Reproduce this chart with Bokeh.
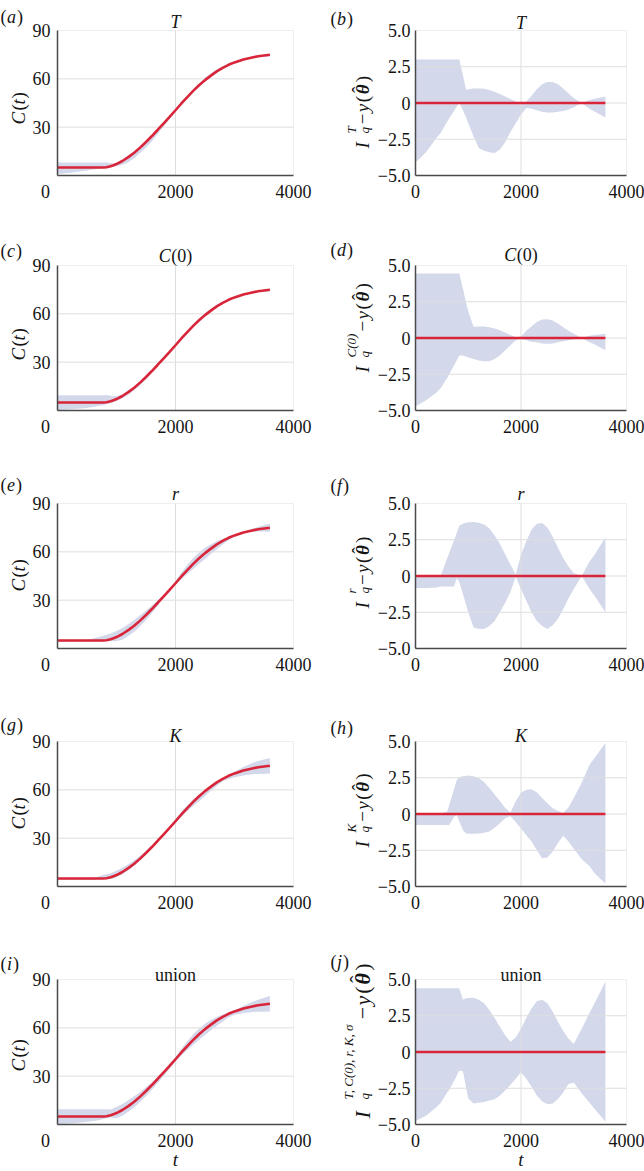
import numpy as np
from bokeh.plotting import figure
from bokeh.layouts import column, row
from bokeh.models import Range1d, FixedTicker, Label, BoxAnnotation
from bokeh.embed import file_html
from bokeh.resources import INLINE

# ---------------- data ----------------
t_grid = [0, 200, 400, 480, 600, 640, 730, 780, 830,
          900, 960, 1000, 1100, 1200, 1300, 1400, 1500, 1600, 1700,
          1800, 1900, 2000, 2100, 2200, 2300, 2400, 2500, 2600, 2700,
          2800, 2900, 3000, 3150, 3300, 3400, 3600]

# MLE solution C(t)
c_mle = [5.0, 5.0, 5.0, 5.0, 5.0, 5.0, 5.0, 5.0, 5.1,
         5.7, 6.5, 7.1, 9.0, 11.4, 14.1, 17.3, 20.8, 24.5, 28.4,
         32.4, 36.4, 40.5, 44.7, 48.7, 52.5, 56.0, 59.2, 62.0, 64.6,
         66.8, 68.7, 70.2, 72.0, 73.3, 74.0, 74.9]
mle_residual = [0.0] * len(t_grid)

# prediction-interval bounds relative to the MLE, I_q - y(theta_hat)
T_up = [3.0, 3.0, 3.0, 3.0, 3.0, 3.0, 3.0, 3.0, 3.0,
        1.9, 0.9, 0.95, 1.0, 1.0, 0.98, 0.9, 0.78, 0.62, 0.45,
        0.27, 0.1, 0.0, 0.1, 0.5, 0.95, 1.3, 1.45, 1.45, 1.3,
        1.0, 0.65, 0.35, 0.0, 0.2, 0.3, 0.45]
T_lo = [-4.1, -3.4, -2.4, -2.05, -1.3, -1.05, -0.55, -0.25, 0.0,
        -0.5, -1.0, -1.4, -2.3, -3.1, -3.3, -3.4, -3.45, -3.2, -2.7,
        -2.0, -1.4, -0.8, -0.35, -0.4, -0.5, -0.6, -0.65, -0.65, -0.6,
        -0.55, -0.45, -0.3, 0.0, -0.4, -0.6, -1.0]

C0_up = [4.45, 4.45, 4.45, 4.45, 4.45, 4.45, 4.45, 4.45, 4.45,
         3.4, 2.4, 1.85, 0.78, 0.8, 0.8, 0.75, 0.65, 0.53, 0.38,
         0.2, 0.05, 0.1, 0.5, 0.8, 1.1, 1.28, 1.3, 1.2, 1.0,
         0.75, 0.5, 0.3, 0.0, 0.15, 0.2, 0.3]
C0_lo = [-4.7, -4.3, -3.75, -3.45, -2.75, -2.5, -1.9, -1.55, -1.2,
         -1.2, -1.3, -1.35, -1.45, -1.55, -1.6, -1.6, -1.45, -1.2, -0.85,
         -0.5, -0.15, -0.05, -0.15, -0.25, -0.3, -0.38, -0.4, -0.38, -0.3,
         -0.22, -0.15, -0.08, 0.0, -0.3, -0.45, -0.85]

r_up = [0.05, 0.05, 0.05, 0.05, 1.2, 1.6, 2.45, 2.95, 3.47,
        3.6, 3.68, 3.7, 3.72, 3.68, 3.55, 3.3, 2.8, 2.2, 1.5,
        0.77, 0.1, 1.45, 2.4, 3.2, 3.6, 3.65, 3.35, 2.7, 1.95,
        1.25, 0.65, 0.2, 0.0, 1.0, 1.5, 2.65]
r_lo = [-0.83, -0.83, -0.8, -0.72, -0.72, -0.72, -0.72, -0.15, -0.4,
        -1.25, -2.0, -2.5, -3.55, -3.66, -3.66, -3.45, -3.1, -2.5, -1.85,
        -1.1, -0.05, -0.9, -1.7, -2.5, -3.1, -3.45, -3.65, -3.4, -2.95,
        -2.3, -1.55, -0.9, 0.0, -0.9, -1.4, -2.5]

K_up = [0.03, 0.03, 0.03, 0.03, 0.15, 0.62, 1.7, 2.33, 2.55,
        2.6, 2.62, 2.65, 2.6, 2.47, 2.2, 1.8, 1.35, 0.9, 0.42,
        0.1, 0.88, 1.46, 1.68, 1.7, 1.5, 1.1, 0.75, 0.4, 0.2,
        0.07, 0.45, 1.1, 2.15, 3.4, 3.9, 4.9]
K_lo = [-0.76, -0.76, -0.76, -0.76, -0.76, -0.76, -0.2, -0.05, -0.5,
        -1.1, -1.34, -1.36, -1.37, -1.35, -1.3, -1.2, -0.95, -0.63, -0.3,
        -0.15, -0.55, -1.0, -1.45, -1.9, -2.5, -3.05, -3.0, -2.6, -2.0,
        -1.5, -1.9, -2.4, -3.1, -3.6, -4.1, -4.8]

U_up = [4.4, 4.4, 4.4, 4.4, 4.4, 4.4, 4.4, 4.4, 4.4,
        3.6, 3.7, 3.72, 3.75, 3.6, 3.36, 2.9, 2.35, 1.75, 1.16,
        0.7, 1.0, 1.6, 2.35, 3.0, 3.5, 3.6, 3.36, 2.8, 2.08,
        1.45, 0.93, 0.55, 1.6, 2.7, 3.4, 4.86]
U_lo = [-4.75, -4.4, -3.8, -3.5, -2.8, -2.6, -2.0, -1.65, -1.27,
        -1.35, -2.5, -3.2, -3.55, -3.5, -3.45, -3.35, -3.25, -3.0, -2.66,
        -2.25, -1.85, -1.4, -1.85, -2.4, -3.0, -3.4, -3.6, -3.55, -3.24,
        -2.8, -2.2, -2.1, -2.85, -3.5, -3.94, -4.8]

x_lim = (0, 4000)
c_lim = (0, 90)
res_lim = (-5.0, 5.0)
x_ticks = [0, 2000, 4000]
c_ticks = [30, 60, 90]
res_ticks = [-5.0, -2.5, 0.0, 2.5, 5.0]
res_tick_labels = ["\u22125.0", "\u22122.5", "0", "2.5", "5.0"]

# ---------------- style ----------------
FONT = "Liberation Serif"
INK = "#141414"
RED = "#d9253a"
BAND = "#d3d8ea"
AXIS = "#4a4a4a"
OUTLINE = "#c8c8c8"
GRID = "#dedede"
ROT = np.pi / 2

CELL_W = 322
FH = 145
ROW_H = [235, 238, 238, 238, 222]
TOP = 30
# left/right pixel margins of the data frame inside each cell
LEFT_M = dict(L=57, R=93)
FW = dict(L=236, R=211)


def put(p, ymin, fx, fy, text, size=18, style="normal", align="left",
        base="alphabetic", angle=0.0):
    """Place text at (fx, fy) pixels measured from the data box's top-left."""
    p.add_layout(Label(x=0, y=ymin, x_offset=fx, y_offset=FH - fy, text=text,
                       text_font=FONT, text_font_size=f"{size}px",
                       text_font_style=style, text_align=align,
                       text_baseline=base, angle=angle, text_color=INK))


def cell_fig(side, h, ylim, yticks, ystand, overrides=None):
    lm, fw = LEFT_M[side], FW[side]
    rm = CELL_W - lm - fw
    bm = h - TOP - FH
    ux = (x_lim[1] - x_lim[0]) / fw
    uy = (ylim[1] - ylim[0]) / FH
    p = figure(width=CELL_W, height=h,
               x_range=Range1d(x_lim[0] - lm * ux, x_lim[1] + rm * ux),
               y_range=Range1d(ylim[0] - bm * uy, ylim[1] + TOP * uy),
               min_border=0, min_border_left=0, min_border_right=0,
               min_border_top=0, min_border_bottom=0,
               output_backend="svg", toolbar_location=None, tools="")
    p.title.visible = False
    p.outline_line_color = None
    p.xgrid.visible = False
    p.ygrid.visible = False
    # axes pinned to the data box
    p.xaxis.fixed_location = ylim[0]
    p.yaxis.fixed_location = x_lim[0]
    p.xaxis.bounds = x_lim
    p.yaxis.bounds = ylim
    p.xaxis.ticker = FixedTicker(ticks=x_ticks)
    p.yaxis.ticker = FixedTicker(ticks=yticks)
    for ax in (p.xaxis[0], p.yaxis[0]):
        ax.axis_line_color = AXIS
        ax.axis_line_width = 1.5
        ax.major_tick_in = 0
        ax.major_tick_out = 0
        ax.minor_tick_in = 0
        ax.minor_tick_out = 0
        ax.major_tick_line_color = None
        ax.minor_tick_line_color = None
        ax.major_label_text_font = FONT
        ax.major_label_text_font_size = "18px"
        ax.major_label_text_color = INK
    p.xaxis.major_label_standoff = 9
    p.yaxis.major_label_standoff = ystand
    if overrides:
        p.yaxis.major_label_overrides = overrides
    # light frame box
    p.add_layout(BoxAnnotation(left=x_lim[0], right=x_lim[1], bottom=ylim[0], top=ylim[1],
                               fill_alpha=0, line_color=OUTLINE, line_width=1,
                               level="underlay"))
    return p


def grid_lines(p, ylim, yticks):
    gx = [v for v in x_ticks if x_lim[0] < v < x_lim[1]]
    gy = [v for v in yticks if ylim[0] < v < ylim[1]]
    p.segment(x0=gx, y0=[ylim[0]] * len(gx), x1=gx, y1=[ylim[1]] * len(gx),
              line_color=GRID, line_width=1)
    p.segment(x0=[x_lim[0]] * len(gy), y0=gy, x1=[x_lim[1]] * len(gy), y1=gy,
              line_color=GRID, line_width=1)


def letter_label(p, ymin, fx, fy, letter, lw):
    put(p, ymin, fx, fy, "(", 18)
    put(p, ymin, fx + 6.5, fy, letter, 18, "italic")
    put(p, ymin, fx + 7.5 + lw, fy, ")", 18)


def title_label(p, ymin, fw, fy, parts):
    total = sum(w for _, _, w in parts)
    x = fw / 2 - total / 2
    for text, style, w in parts:
        put(p, ymin, x, fy, text, 18, style)
        x += w


C0_TITLE = [("C", "italic", 12.5), ("(", "normal", 6), ("0", "normal", 9), (")", "normal", 6)]
left_specs = [
    dict(letter="a", lw=9, title=[("T", "italic", 10)], tb=9, lb=14, ys=94, up=T_up, lo=T_lo),
    dict(letter="c", lw=8, title=C0_TITLE, tb=10, lb=15, ys=95, up=C0_up, lo=C0_lo),
    dict(letter="e", lw=8, title=[("r", "italic", 7)], tb=9.5, lb=19, ys=88, up=r_up, lo=r_lo),
    dict(letter="g", lw=9, title=[("K", "italic", 12)], tb=6, lb=17, ys=88, up=K_up, lo=K_lo),
    dict(letter="i", lw=5, title=[("union", "normal", 41)], tb=5, lb=16, ys=92, up=U_up, lo=U_lo),
]
right_specs = [
    dict(letter="b", lw=9, title=[("T", "italic", 10)], tb=7.5, lb=12, ys=118,
         sup="T", supw=7.2, up=T_up, lo=T_lo),
    dict(letter="d", lw=9, title=C0_TITLE, tb=11, lb=16, ys=107, sup="C(0)", supw=24, up=C0_up, lo=C0_lo),
    dict(letter="f", lw=5, title=[("r", "italic", 7)], tb=9.7, lb=18, ys=105,
         sup="r", supw=5, up=r_up, lo=r_lo),
    dict(letter="h", lw=9, title=[("K", "italic", 12)], tb=6, lb=14, ys=106,
         sup="K", supw=8.7, up=K_up, lo=K_lo),
    dict(letter="j", lw=5, title=[("union", "normal", 41)], tb=5, lb=18, ys=139,
         sup="T, C(0), r, K, \u03c3", supw=78, up=U_up, lo=U_lo, big=True),
]

t_arr = np.array(t_grid, dtype=float)
c_arr = np.array(c_mle, dtype=float)

rows = []
for i in range(5):
    h = ROW_H[i]
    last = (i == 4)

    # ---------- left panel: C(t) ----------
    ls = left_specs[i]
    pl = cell_fig("L", h, c_lim, c_ticks, 7)
    pl.xaxis.major_label_overrides = {0: ""}
    pl.varea(x=t_arr, y1=c_arr + np.array(ls["lo"]), y2=c_arr + np.array(ls["up"]),
             fill_color=BAND, fill_alpha=1.0)
    grid_lines(pl, c_lim, c_ticks)
    pl.line(t_arr, c_arr, line_color=RED, line_width=2.6)
    ymin = c_lim[0]
    put(pl, ymin, -12, FH + 9, "0", 18, "normal", "center", "top")
    letter_label(pl, ymin, -57, -ls["lb"], ls["letter"], ls["lw"])
    title_label(pl, ymin, FW["L"], -ls["tb"], ls["title"])
    for text, style, d in [("C", "italic", 0), ("(", "normal", 14), ("t", "italic", 20), (")", "normal", 26)]:
        put(pl, ymin, -39, ls["ys"] - d, text, 19, style, "left", "alphabetic", ROT)
    if last:
        put(pl, ymin, FW["L"] / 2, FH + 35, "t", 19, "italic", "center")

    # ---------- right panel: residual ----------
    rs = right_specs[i]
    ov = {v: s for v, s in zip(res_ticks, res_tick_labels)}
    pr = cell_fig("R", h, res_lim, res_ticks, 5, overrides=ov)
    pr.varea(x=t_arr, y1=rs["lo"], y2=rs["up"], fill_color=BAND, fill_alpha=1.0)
    grid_lines(pr, res_lim, res_ticks)
    pr.line(t_arr, mle_residual, line_color=RED, line_width=2.6)
    ymin = res_lim[0]
    letter_label(pr, ymin, -85, -rs["lb"], rs["letter"], rs["lw"])
    title_label(pr, ymin, FW["R"], -rs["tb"], rs["title"])

    big = rs.get("big", False)
    main = 22 if big else 19
    s = main / 19.0
    d_sup = 19 if big else 15
    raise_ = 14 if big else 11
    B = d_sup + 1 + max(rs["supw"], 6.5)
    bx = -53
    ys = rs["ys"]
    parts = [("I", "italic", main, 0, 0, "left"),
             (rs["sup"], "italic", 13, d_sup, -raise_, "left"),
             ("q", "italic", 13, d_sup, 2, "left"),
             ("\u2212", "normal", main, B + 1 * s, 0, "left"),
             ("y", "italic", main, B + 13 * s, 0, "left"),
             ("(", "normal", main, B + 23 * s, 0, "left"),
             ("\u03b8", "bold italic", main, B + 31 * s, 0, "left"),
             ("\u02c6", "normal", main, B + 35.5 * s, -4 * s, "center"),
             (")", "normal", main, B + 43 * s, 0, "left")]
    for text, style, size, d, perp, align in parts:
        put(pr, ymin, bx + perp, ys - d, text, size, style, align, "alphabetic", ROT)
    if last:
        put(pr, ymin, FW["R"] / 2, FH + 35, "t", 19, "italic", "center")

    rows.append(row(pl, pr))

layout = column(*rows)

open("out.html", "w").write(file_html(layout, INLINE))
